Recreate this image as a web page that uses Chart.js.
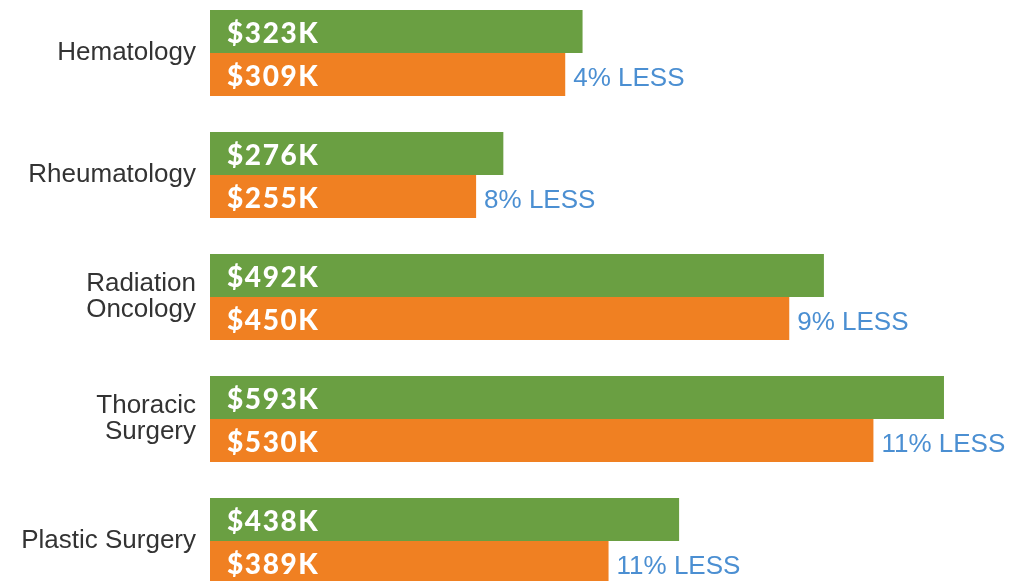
<!DOCTYPE html>
<html>
<head>
<meta charset="utf-8">
<script src="https://cdn.jsdelivr.net/npm/chart.js@4"></script>
<style>
  html, body { margin: 0; padding: 0; background: #fff; overflow: hidden; }
  body { width: 1030px; height: 581px; position: relative; }
  #wrap { position: absolute; left: 0; top: -8px; width: 1030px; height: 610px; }
</style>
</head>
<body>
<div id="wrap"><canvas id="chart" width="1030" height="610"></canvas></div>
<script>
// ---------- data ----------
const categories = ["Hematology", "Rheumatology", ["Radiation", "Oncology"], ["Thoracic", "Surgery"], "Plastic Surgery"];

// printed values (the infographic bars are not drawn to scale)
const greenLabels = ["$323K", "$276K", "$492K", "$593K", "$438K"];
const orangeLabels = ["$309K", "$255K", "$450K", "$530K", "$389K"];
const diffLabels = ["4% LESS", "8% LESS", "9% LESS", "11% LESS", "11% LESS"];

// bar lengths as drawn, in $K-equivalent units
const greenBars = [301, 237, 496, 593, 379];
const orangeBars = [287, 215, 468, 536, 322];

const GREEN = "#6a9f42";
const ORANGE = "#f08022";
const BLUE = "#4b8fd2";

/* --- labels inside and beside the bars --- */
const barLabels = {
  id: "barLabels",
  afterDatasetsDraw(chart) {
    const ctx = chart.ctx;
    ctx.save();
    ctx.textBaseline = "middle";
    ctx.textAlign = "left";

    [greenLabels, orangeLabels].forEach((labels, di) => {
      const meta = chart.getDatasetMeta(di);
      meta.data.forEach((bar, i) => {
        ctx.fillStyle = "#ffffff";
        ctx.font = "900 28px Lato";
        ctx.letterSpacing = "1.6px";
        ctx.fillText(labels[i], bar.base + 17, bar.y + 2);
        if (di === 1) {
          ctx.fillStyle = BLUE;
          ctx.font = "26px 'Liberation Sans'";
          ctx.letterSpacing = "0px";
          ctx.fillText(diffLabels[i], bar.x + 8, bar.y + 4);
        }
      });
    });
    ctx.restore();
  },
};

new Chart(document.getElementById("chart"), {
  type: "bar",
  data: {
    labels: categories,
    datasets: [
      {
        label: "Green",
        data: greenBars,
        backgroundColor: GREEN,
        barPercentage: 1.0,
        categoryPercentage: 0.705,
      },
      {
        label: "Orange",
        data: orangeBars,
        backgroundColor: ORANGE,
        barPercentage: 1.0,
        categoryPercentage: 0.705,
      },
    ],
  },
  options: {
    indexAxis: "y",
    responsive: false,
    animation: false,
    layout: { padding: 0 },
    plugins: {
      legend: { display: false },
      tooltip: { enabled: false },
    },
    scales: {
      x: {
        display: false,
        min: 0,
        max: 662.5,
      },
      y: {
        offset: true,
        border: { display: false },
        grid: { display: false, drawTicks: false },
        ticks: {
          color: "#333333",
          padding: 14,
          font: { family: "'Liberation Sans'", size: 26, lineHeight: 1.0 },
        },
        afterFit(scale) {
          scale.width = 210;
          // the edge labels sit inside their categories, no extra room needed
          scale.paddingTop = 0;
          scale.paddingBottom = 0;
        },
      },
    },
  },
  plugins: [barLabels],
});
</script>
</body>
</html>
